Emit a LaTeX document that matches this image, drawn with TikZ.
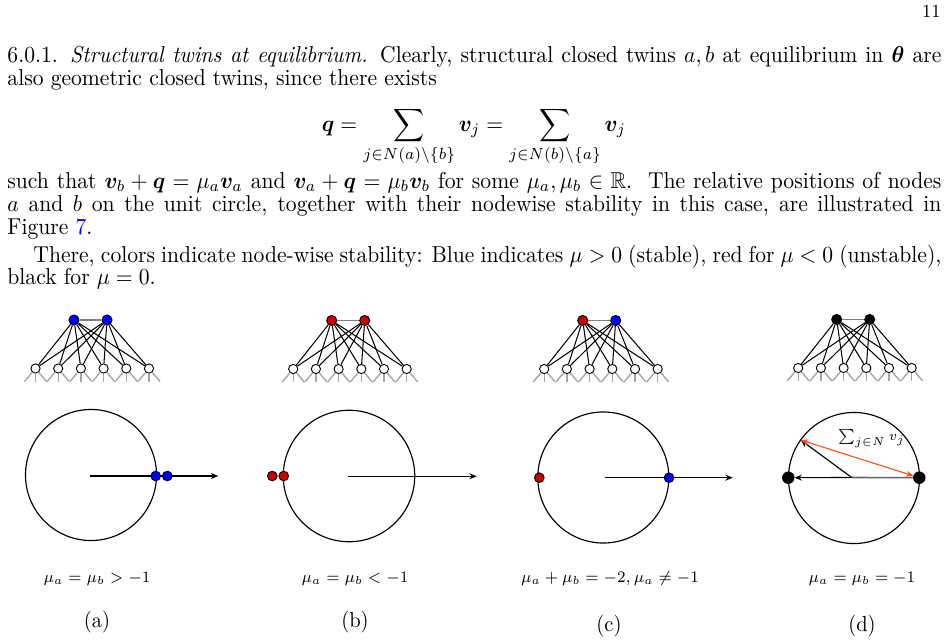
\documentclass[tikz,border=0pt]{standalone}
\usepackage{amsmath,amssymb,bm,graphicx}
\usetikzlibrary{arrows.meta}
\definecolor{nred}{RGB}{204,0,0}
\definecolor{nblue}{RGB}{0,0,255}
\definecolor{sumorange}{RGB}{255,80,30}
\newcommand\cx[1]{\scalebox{0.94}[1]{#1}}
\tikzset{
 topnode/.style={circle,draw=black,line width=0.4pt,inner sep=0pt,minimum size=4.4pt},
 botnode/.style={circle,draw=black,fill=white,line width=0.4pt,inner sep=0pt,minimum size=4pt},
 stubline/.style={draw=black!35,line width=0.6pt},
 edgeline/.style={draw=black,line width=0.45pt},
 twinline/.style={draw=black!50,line width=0.6pt},
 unitcircle/.style={draw=black,line width=0.5pt},
 vecarrow/.style={draw=black,line width=0.5pt,-{Stealth[length=3.2pt,width=2.6pt]}},
 sumarrow/.style={draw=sumorange,line width=0.5pt,{Stealth[length=3.2pt,width=2.6pt]}-{Stealth[length=3.2pt,width=2.6pt]}},
 dot/.style={circle,draw=black,line width=0.4pt,inner sep=0pt,minimum size=4.2pt},
 bigdot/.style={circle,draw=black,fill=black,inner sep=0pt,minimum size=5pt},
 bodytext/.style={anchor=base west,inner sep=0pt},
 caplabel/.style={anchor=base,inner sep=0pt,font=\fontsize{7.4}{9}\selectfont},
 sublabel/.style={anchor=base,inner sep=0pt,font=\fontsize{9.5}{11}\selectfont},
}
\newcommand\drawtwin[5]{%
  \node[topnode,fill=#4] (#1A) at (#2,#3) {};
  \node[topnode,fill=#5] (#1B) at ({#2+33},#3) {};
  \foreach \i in {0,...,5}{
    \node[botnode] (#1S\i) at ({#2-38.5+\i*22.7},{#3+48.5}) {};
  }
  \foreach \i in {0,...,5}{
    \draw[stubline] (#1S\i) -- ++(-11,13);
    \draw[stubline] (#1S\i) -- ++(0,13);
    \draw[stubline] (#1S\i) -- ++(11,13);
    \draw[edgeline] (#1A) -- (#1S\i);
    \draw[edgeline] (#1B) -- (#1S\i);
  }
  \draw[twinline] (#1A) -- (#1B);
}
\begin{document}
\begin{tikzpicture}[x=0.435pt,y=-0.435pt]
\useasboundingbox (0,0) rectangle (948,643);
% page number
\node[anchor=base east,inner sep=0pt,font=\footnotesize] (pg) at (941,17) {\cx{11}};
% text
\node[bodytext] (l1) at (7,62) {\cx{\hbox to 432.2pt{6.0.1. \textit{Structural twins at equilibrium.} Clearly, structural closed twins $a,b$ at equilibrium in $\bm\theta$ are}}};
\node[bodytext] (l2) at (7,85) {\cx{also geometric closed twins, since there exists}};
\node[anchor=base,inner sep=0pt] (eq) at (474,131) {\cx{$\displaystyle \bm q=\sum_{j\in N(a)\setminus\{b\}}\bm v_j=\sum_{j\in N(b)\setminus\{a\}}\bm v_j$}};
\node[bodytext] (l3) at (7,188) {\cx{\hbox to 432.2pt{such that $\bm v_b+\bm q=\mu_a\bm v_a$ and $\bm v_a+\bm q=\mu_b\bm v_b$ for some $\mu_a,\mu_b\in\mathbb{R}$.\ \ The relative positions of nodes}}};
\node[bodytext] (l4) at (7,211) {\cx{\hbox to 432.2pt{$a$ and $b$ on the unit circle, together with their nodewise stability in this case, are illustrated in}}};
\node[bodytext] (l5) at (7,234) {\cx{Figure \textcolor{blue}{7}.}};
\node[bodytext] (l6) at (33,262) {\cx{\hbox to 420.2pt{There, colors indicate node-wise stability: Blue indicates $\mu>0$ (stable), red for $\mu<0$ (unstable),}}};
\node[bodytext] (l7) at (7,284) {\cx{black for $\mu=0$.}};
% graphs
\drawtwin{ga}{74}{320}{nblue}{nblue}
\drawtwin{gb}{331.7}{320.5}{nred}{nred}
\drawtwin{gc}{582.7}{320.5}{nred}{nblue}
\drawtwin{gd}{836.7}{319.5}{black}{black}
% panel (a)
\coordinate (cA) at (91,475);
\coordinate (oA) at (90,476);
\coordinate (eA) at (218.3,476);
\draw[unitcircle] (cA) circle[radius=28.5pt];
\draw[vecarrow] (oA) -- (eA);
\node[dot,fill=nblue] (a1) at (155.7,476) {};
\node[dot,fill=nblue] (a2) at (167.3,476) {};
% panel (b)
\coordinate (cB) at (349,476);
\coordinate (oB) at (348.3,476.3);
\coordinate (eB) at (476.7,476.3);
\draw[unitcircle] (cB) circle[radius=28.6pt];
\draw[vecarrow] (oB) -- (eB);
\node[dot,fill=nred] (b1) at (272.3,476) {};
\node[dot,fill=nred] (b2) at (283.7,476) {};
% panel (c)
\coordinate (cC) at (603.3,477.5);
\coordinate (oC) at (605,477.7);
\coordinate (eC) at (732.7,477.7);
\draw[unitcircle] (cC) circle[radius=28.5pt];
\draw[vecarrow] (oC) -- (eC);
\node[dot,fill=nred] (c1) at (539.3,477.7) {};
\node[dot,fill=nblue] (c2) at (669,477.7) {};
% panel (d)
\coordinate (cD) at (854,478);
\draw[unitcircle] (cD) circle[radius=28.5pt];
\node[bigdot] (dL) at (788.3,477.7) {};
\node[bigdot] (dR) at (919.3,477.7) {};
\coordinate (oD) at (851.7,477.5);
\coordinate (pD) at (800.7,440);
\draw[draw=black!60,line width=0.7pt] (oD) -- (dR);
\draw[vecarrow] (oD) -- (dL);
\draw[vecarrow] (oD) -- (pD);
\draw[sumarrow] (pD) -- (dR);
\node[inner sep=0pt,font=\fontsize{6.5}{8}\selectfont] (sl) at (871.5,439) {\cx{$\sum_{j\in N} v_j$}};
% captions
\node[caplabel] (ma) at (97,582) {\cx{$\mu_a=\mu_b>-1$}};
\node[caplabel] (mb) at (355,582) {\cx{$\mu_a=\mu_b<-1$}};
\node[caplabel] (mc) at (610,582) {\cx{$\mu_a+\mu_b=-2,\mu_a\neq-1$}};
\node[caplabel] (md) at (862,582) {\cx{$\mu_a=\mu_b=-1$}};
\node[sublabel] (sa) at (97,627) {\cx{(a)}};
\node[sublabel] (sb) at (355,627) {\cx{(b)}};
\node[sublabel] (sc) at (609,631) {\cx{(c)}};
\node[sublabel] (sd) at (862,631) {\cx{(d)}};
\end{tikzpicture}
\end{document}
